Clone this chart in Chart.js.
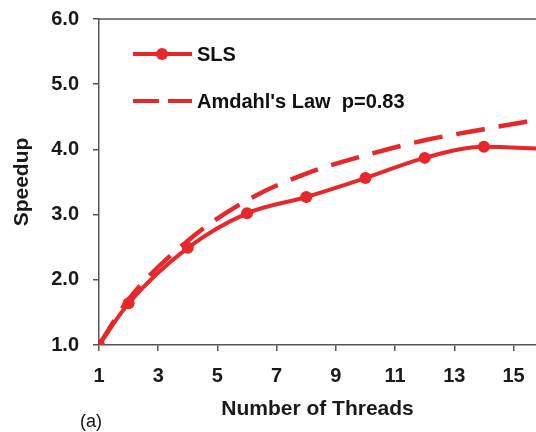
<!DOCTYPE html>
<html lang="en">
  <head>
    <meta charset="UTF-8" />
    <title>Speedup</title>
    <style>
      html, body { margin: 0; padding: 0; background: #fff; }
      .wrap { width: 536px; height: 432px; }
    </style>
  </head>
  <body>
    <div class="wrap"><canvas id="mychart"></canvas></div>

    <script src="https://cdn.jsdelivr.net/npm/chart.js@4.4.0/dist/chart.umd.min.js"></script>
    <script>
      // data
      const threads = [1, 2, 4, 6, 8, 10, 12, 14, 16];
      const sls = [1.0, 1.64, 2.49, 3.02, 3.27, 3.56, 3.87, 4.04, 4.01];
      const amdahl = [1.0, 1.7, 2.6, 3.22, 3.63, 3.91, 4.14, 4.31, 4.47];
      const xTicks = [1, 3, 5, 7, 9, 11, 13, 15];
      const yTicks = [1, 2, 3, 4, 5, 6];

      const red = "#e8272b";
      const axisColor = "#555555";
      const font = "'Liberation Sans', Arial, sans-serif";
      Chart.defaults.font.family = font;
      Chart.defaults.color = "#1a1a1a";

      const slsPts = threads.map((t, i) => ({ x: t, y: sls[i] }));
      const amdPts = threads.map((t, i) => ({ x: t, y: amdahl[i] }));

      // legend inside the plot + top border + "(a)"
      const extras = {
        id: "extras",
        afterDraw(chart) {
          const ctx = chart.ctx;
          const a = chart.chartArea;
          ctx.save();
          // top border
          ctx.strokeStyle = axisColor;
          ctx.lineWidth = 1.5;
          ctx.beginPath();
          ctx.moveTo(a.left, a.top);
          ctx.lineTo(a.right, a.top);
          ctx.stroke();

          const lx = a.left + 34;
          const y1 = a.top + 35;
          const y2 = a.top + 82;
          ctx.strokeStyle = red;
          ctx.fillStyle = red;
          ctx.lineWidth = 4;
          ctx.beginPath();
          ctx.moveTo(lx, y1);
          ctx.lineTo(lx + 59, y1);
          ctx.stroke();
          ctx.beginPath();
          ctx.arc(lx + 29, y1, 6, 0, Math.PI * 2);
          ctx.fill();

          ctx.setLineDash([26, 9]);
          ctx.beginPath();
          ctx.moveTo(lx, y2);
          ctx.lineTo(lx + 59, y2);
          ctx.stroke();
          ctx.setLineDash([]);

          ctx.fillStyle = "#111";
          ctx.font = "bold 20px " + font;
          ctx.textBaseline = "middle";
          ctx.textAlign = "left";
          ctx.fillText("SLS", lx + 64, y1 + 1);
          ctx.fillText("Amdahl's Law  p=0.83", lx + 64, y2 + 1);

          ctx.font = "18px " + font;
          ctx.fillText("(a)", 80, 422);
          ctx.restore();
        },
      };

      new Chart(document.getElementById("mychart"), {
        type: "line",
        data: {
          datasets: [
            {
              label: "SLS",
              data: slsPts,
              borderColor: red,
              backgroundColor: red,
              borderWidth: 4,
              pointRadius: 6,
              pointHoverRadius: 6,
              pointBorderWidth: 0,
              cubicInterpolationMode: "monotone",
            },
            {
              label: "Amdahl's Law  p=0.83",
              data: amdPts,
              borderColor: red,
              backgroundColor: red,
              borderWidth: 4.5,
              borderDash: [29, 14],
              pointRadius: 0,
              cubicInterpolationMode: "monotone",
            },
          ],
        },
        options: {
          responsive: true,
          maintainAspectRatio: false,
          animation: false,
          layout: { autoPadding: false, padding: { top: 19, right: 0, left: 0, bottom: 0 } },
          plugins: {
            legend: { display: false },
            tooltip: { enabled: false },
          },
          scales: {
            x: {
              type: "linear",
              min: 1,
              max: 15.76,
              afterBuildTicks: (s) => {
                s.ticks = xTicks.map((v) => ({ value: v }));
              },
              afterFit: (s) => {
                s.height = 87;
                s.paddingLeft = 0;
                s.paddingRight = 0;
              },
              grid: { drawOnChartArea: false, drawTicks: true, tickLength: 6, color: axisColor, lineWidth: 1.5 },
              border: { color: axisColor, width: 1.5 },
              ticks: { font: { size: 20, weight: "bold" }, padding: 13, maxRotation: 0, autoSkip: false },
              title: {
                display: true,
                text: "Number of Threads",
                font: { size: 21, weight: "bold" },
                padding: { top: 0, bottom: 10 },
              },
            },
            y: {
              min: 1,
              max: 6,
              afterBuildTicks: (s) => {
                s.ticks = yTicks.map((v) => ({ value: v }));
              },
              afterFit: (s) => {
                s.width = 99;
                s.paddingTop = 0;
                s.paddingBottom = 0;
              },
              grid: { drawOnChartArea: false, drawTicks: true, tickLength: 6, color: axisColor, lineWidth: 1.5 },
              border: { color: axisColor, width: 1.5 },
              ticks: {
                font: { size: 20, weight: "bold" },
                padding: 14,
                callback: (v) => v.toFixed(1),
              },
              title: {
                display: true,
                text: "Speedup",
                font: { size: 21, weight: "bold" },
                padding: { top: 10, bottom: 0 },
              },
            },
          },
        },
        plugins: [extras],
      });
    </script>
  </body>
</html>
